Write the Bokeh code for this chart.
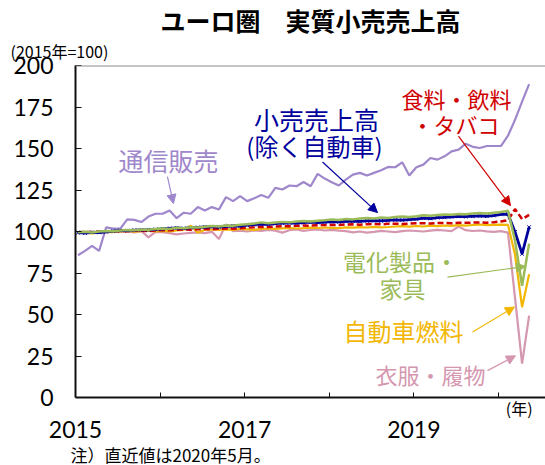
from bokeh.plotting import figure
from bokeh.models import Range1d, FixedTicker, Label, Arrow, NormalHead, Span, Title, LinearAxis
from bokeh.embed import file_html
from bokeh.resources import INLINE

# ---- data (monthly, Jan 2015 - May 2020, 2015=100) ----
start_year = 2015
n_months = 65

mail_order = [85.7, 88.3, 91.3, 88.3, 102.5, 101.7, 101.7, 107.3, 107.0, 105.7, 109.0, 110.7,
              110.7, 112.7, 108.0, 111.3, 110.7, 114.7, 112.7, 114.7, 113.3, 120.7, 118.3, 121.3,
              118.3, 120.0, 122.0, 120.3, 126.3, 125.3, 127.7, 127.3, 129.8, 127.3, 134.7, 131.9,
              129.7, 127.7, 131.3, 134.3, 135.3, 133.7, 135.3, 136.9, 138.9, 138.7, 141.7, 133.7,
              138.7, 140.3, 144.3, 143.3, 145.3, 148.3, 149.3, 152.9, 151.0, 150.3, 151.5, 151.5,
              151.5, 157.7, 167.3, 178.2, 188.8]

retail_ex_auto = [99.3, 99.1, 99.5, 99.4, 99.8, 100.2, 100.6, 100.5, 100.8, 101.0, 101.0, 101.3,
                  101.6, 101.9, 102.2, 101.9, 102.3, 102.5, 102.7, 102.9, 102.7, 103.1, 103.4, 103.3,
                  103.8, 104.1, 104.5, 104.3, 104.8, 105.0, 105.2, 105.1, 105.4, 105.6, 105.4, 105.7,
                  105.9, 105.8, 106.1, 106.3, 106.1, 106.4, 106.6, 106.4, 106.7, 107.0, 106.9, 107.2,
                  107.5, 108.0, 107.8, 108.3, 108.5, 108.8, 109.1, 108.9, 109.2, 109.4, 109.2, 109.6,
                  110.3, 110.5, 99.7, 86.5, 102.7]

food = [99.6, 99.8, 99.7, 100.0, 99.9, 100.1, 100.3, 100.2, 100.4, 100.5, 100.3, 100.6,
        100.8, 100.7, 101.0, 101.2, 101.0, 101.3, 101.5, 101.4, 101.6, 101.8, 101.7, 102.0,
        102.3, 102.5, 102.8, 102.7, 103.0, 103.2, 103.1, 103.4, 103.6, 103.5, 103.8, 103.9,
        104.0, 103.9, 104.2, 104.3, 104.1, 104.4, 104.5, 104.3, 104.6, 104.7, 104.5, 104.8,
        104.9, 105.0, 104.8, 105.1, 105.2, 105.0, 105.3, 105.2, 105.4, 105.5, 105.3, 105.6,
        106.0, 106.8, 113.5, 107.5, 110.0]

electrical = [99.5, 99.8, 99.4, 100.0, 100.3, 100.1, 100.6, 100.9, 100.7, 101.2, 101.0, 101.5,
              101.8, 101.5, 102.2, 102.0, 102.6, 102.4, 102.9, 103.3, 103.0, 103.6, 103.4, 104.0,
              104.3, 104.8, 105.5, 105.0, 105.4, 105.8, 105.5, 106.0, 106.3, 106.0, 106.5, 106.8,
              107.2, 106.9, 107.5, 107.3, 107.8, 108.1, 107.9, 108.4, 108.2, 108.8, 109.0, 108.7,
              109.2, 109.8, 109.5, 110.0, 110.3, 110.1, 110.6, 110.4, 110.9, 111.2, 110.8, 111.3,
              111.8, 112.5, 94.5, 67.3, 92.7]

fuel = [99.0, 99.3, 98.8, 99.5, 99.8, 99.6, 100.0, 100.3, 99.9, 100.2, 100.5, 100.1,
        100.4, 100.0, 100.6, 101.0, 103.5, 99.3, 101.0, 101.2, 101.0, 101.3, 101.0, 101.5,
        101.3, 101.0, 101.5, 101.8, 101.6, 101.9, 102.1, 101.8, 102.0, 102.3, 102.1, 102.4,
        102.2, 102.0, 102.5, 102.3, 102.6, 102.4, 102.8, 102.5, 102.7, 103.0, 103.2, 102.9,
        103.3, 103.0, 103.5, 103.2, 103.6, 103.4, 103.8, 103.5, 103.9, 104.2, 103.8, 104.0,
        104.2, 104.0, 86.0, 54.4, 74.3]

clothing = [99.5, 99.8, 99.2, 100.0, 99.6, 100.3, 99.8, 100.1, 99.5, 100.2, 96.5, 99.8,
            99.6, 99.0, 98.3, 98.8, 99.2, 99.5, 99.0, 99.8, 95.5, 104.3, 100.2, 100.5,
            100.0, 100.6, 100.3, 101.0, 100.5, 99.3, 100.8, 101.2, 100.4, 100.9, 101.3, 100.6,
            101.0, 100.5, 100.2, 99.5, 100.0, 99.3, 99.8, 100.4, 100.0, 99.6, 100.2, 100.6,
            100.3, 100.0, 100.5, 101.0, 100.6, 100.2, 103.0, 100.8, 100.3, 100.6, 100.1, 99.8,
            100.2, 99.3, 60.0, 20.4, 49.3]

y_ticks = [0, 25, 50, 75, 100, 125, 150, 175, 200]
year_marks = [2016, 2017, 2018, 2019, 2020]
year_labels = [2015, 2017, 2019]
unit_tick = 2020.55
unit_label = {2020.55: "(年)"}

# month positions (plotted near the start of each month slot)
x = [start_year + (i + 0.35) / 12 for i in range(n_months)]

PURPLE = "#9F87CB"
BLUE = "#00009C"
RED = "#D00000"
GREEN = "#9BBB59"
GOLD = "#F2B705"
PINK = "#D597B0"
JP = "Noto Sans CJK JP"
NUM = "Lato"

p = figure(width=545, height=465, x_range=Range1d(2015, 2020.556), y_range=Range1d(0, 200),
           output_backend="svg", toolbar_location=None,
           min_border_left=75, min_border_right=0, min_border_top=65, min_border_bottom=66)
p.xgrid.grid_line_color = None
p.ygrid.grid_line_color = None
p.outline_line_color = None
p.background_fill_color = "white"
p.border_fill_color = "white"

p.add_layout(Span(location=200, dimension="width", line_color="#8C8C8C", line_width=2))

# y axis
p.yaxis.ticker = FixedTicker(ticks=y_ticks)
p.yaxis.major_tick_in = 6
p.yaxis.major_tick_out = 0
p.yaxis.minor_tick_line_color = None
p.yaxis.axis_line_width = 2
p.yaxis.axis_line_color = "#111111"
p.yaxis.major_tick_line_color = "#111111"
p.yaxis.major_tick_line_width = 1
p.yaxis.major_label_text_font = NUM
p.yaxis.major_label_text_font_size = "23px"
p.yaxis.major_label_text_color = "black"
p.yaxis.major_label_standoff = 22

# x axis next to the frame: year tick marks + unit "(年)"
ax1 = p.xaxis[0]
ax1.ticker = FixedTicker(ticks=[unit_tick], minor_ticks=year_marks)
ax1.major_label_overrides = unit_label
ax1.major_tick_line_color = None
ax1.minor_tick_in = 5
ax1.minor_tick_out = 0
ax1.minor_tick_line_color = "#111111"
ax1.minor_tick_line_width = 1
ax1.axis_line_width = 2
ax1.axis_line_color = "#111111"
ax1.major_label_text_font = JP
ax1.major_label_text_font_size = "16px"
ax1.major_label_text_color = "black"
ax1.major_label_standoff = -8

# second x axis: year labels
ax2 = LinearAxis(ticker=FixedTicker(ticks=year_labels), axis_line_color=None,
                 major_tick_line_color=None, minor_tick_line_color=None,
                 major_label_standoff=-8, major_label_text_font=NUM,
                 major_label_text_font_size="23px", major_label_text_color="black")
p.add_layout(ax2, "below")

# series
p.line(x, mail_order, line_color=PURPLE, line_width=2.2)
p.line(x, clothing, line_color=PINK, line_width=2.2)
p.line(x, fuel, line_color=GOLD, line_width=2.2)
p.line(x, food, line_color=RED, line_width=2.5, line_dash="6 3")
p.line(x, retail_ex_auto, line_color=BLUE, line_width=2.8)
p.scatter(x, retail_ex_auto, marker="x", size=5, line_color=BLUE, line_width=1)
p.line(x, electrical, line_color=GREEN, line_width=2.5)

# titles / outer texts
p.add_layout(Title(text="(2015年=100)", align="left", offset=-65, standoff=6,
                   text_font=JP, text_font_size="16px", text_font_style="normal",
                   text_color="black"), "above")
p.add_layout(Title(text="ユーロ圏　実質小売売上高", align="center", standoff=-8,
                   text_font=JP, text_font_size="25px", text_font_style="bold",
                   text_color="black"), "above")
p.add_layout(Title(text="注）直近値は2020年5月。", align="left", offset=-5, standoff=-2,
                   text_font=JP, text_font_size="17px", text_font_style="normal",
                   text_color="black"), "below")


def lab(xx, yy, text, color, size="24px"):
    p.add_layout(Label(x=xx, y=yy, text=text, text_color=color, text_font=JP,
                       text_font_size=size, text_align="center", text_baseline="middle"))


def arrow(x0, y0, x1, y1, color):
    p.add_layout(Arrow(end=NormalHead(size=9, fill_color=color, line_color=color),
                       x_start=x0, y_start=y0, x_end=x1, y_end=y1,
                       line_color=color, line_width=1.2))


# annotations
lab(2016.099, 143.1, "通信販売", PURPLE, size="25px")
arrow(2016.087, 133.0, 2016.158, 116.8, PURPLE)

lab(2017.849, 167.7, "小売売上高", BLUE, size="25px")
lab(2017.825, 152.1, "(除く自動車)", BLUE)
arrow(2017.920, 141.9, 2018.570, 111.4, BLUE)

lab(2019.504, 180.2, "食料・飲料", RED, size="22px")
lab(2019.492, 164.7, "・タバコ", RED, size="22px")
arrow(2019.527, 157.5, 2020.142, 115.6, RED)

lab(2018.842, 82.0, "電化製品・", GREEN, size="23px")
lab(2018.865, 65.9, "家具", GREEN, size="23px")
arrow(2019.397, 72.5, 2020.319, 79.0, GREEN)

lab(2018.877, 40.1, "自動車燃料", GOLD)
arrow(2019.693, 39.5, 2020.189, 54.5, GOLD)

lab(2019.196, 14.4, "衣服・履物", PINK, size="22px")
arrow(2019.870, 16.2, 2020.201, 25.1, PINK)

open("out.html", "w").write(file_html(p, INLINE))
